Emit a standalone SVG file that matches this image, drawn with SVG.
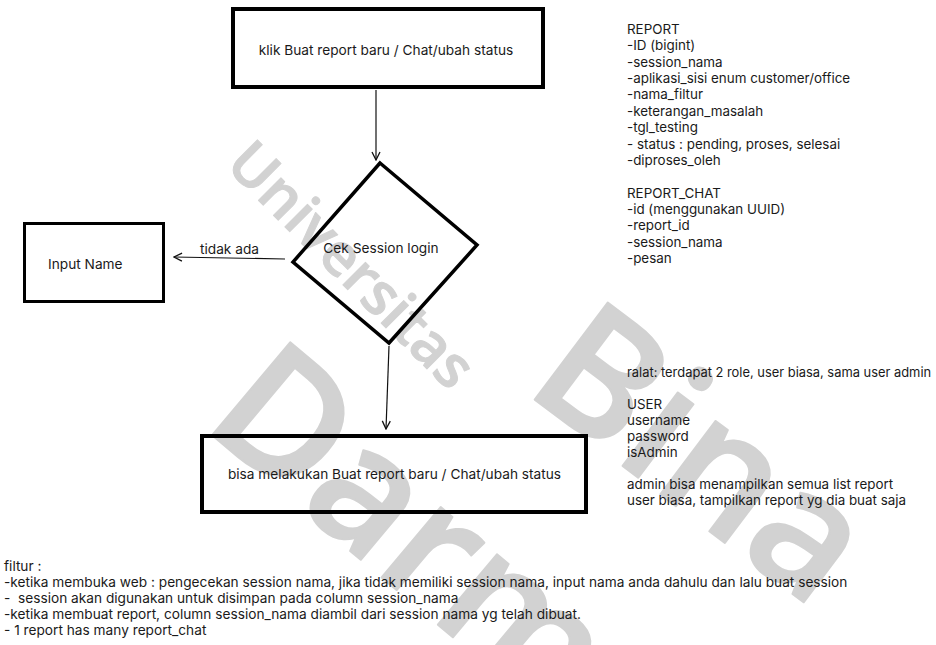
<svg xmlns="http://www.w3.org/2000/svg" width="936" height="645" viewBox="0 0 936 645">
<style>
  .t { font-family: Inter, "Noto Sans", "Liberation Sans", sans-serif; font-size: 13.4px; fill: #1a1a1a; }
  .tb { font-family: Inter, "Noto Sans", "Liberation Sans", sans-serif; font-size: 13.7px; fill: #1a1a1a; }
  .tn { font-family: Inter, "Noto Sans", "Liberation Sans", sans-serif; font-size: 13.7px; fill: #1a1a1a; }
  .box { fill: none; stroke: #000; stroke-width: 4; }
  .conn { fill: none; stroke: #111; stroke-width: 1.2; }
  .wm { font-family: "Open Sans", Lato, "Noto Sans", sans-serif; font-weight: 600; fill: #d2d2d2; stroke: #d2d2d2; stroke-linejoin: round; stroke-linecap: round; }
</style>
<defs>
  <marker id="arr" viewBox="0 0 10 10" refX="9" refY="5" markerWidth="10" markerHeight="10" markerUnits="userSpaceOnUse" orient="auto">
    <path d="M1,1 L9,5 L1,9" fill="none" stroke="#111" stroke-width="1.3"/>
  </marker>
</defs>
<rect width="936" height="645" fill="#fff"/>
<g id="watermark">
  <text class="wm" x="0" y="0" font-size="59" stroke-width="1" transform="translate(224,166) rotate(45)">Universitas</text>
  <text class="wm" x="0" y="0" font-size="170" stroke-width="2" transform="translate(522,390) rotate(37)">Bina</text>
  <text class="wm" x="0" y="0" font-size="170" stroke-width="2" transform="translate(200,425) rotate(40)">Darma</text>
</g>
<g id="connectors">
  <line class="conn" x1="376" y1="90" x2="376" y2="160" marker-end="url(#arr)"/>
  <line class="conn" x1="285" y1="259" x2="174" y2="257" marker-end="url(#arr)"/>
  <line class="conn" x1="389" y1="346" x2="386" y2="429" marker-end="url(#arr)"/>
  <text class="tn" x="200" y="254">tidak ada</text>
</g>
<g id="start">
  <rect class="box" x="233" y="9" width="310" height="78"/>
  <text class="tn" x="386" y="55" text-anchor="middle">klik Buat report baru / Chat/ubah status</text>
</g>
<g id="cek-session">
  <polygon points="380,163 477,245 389,343 293,262" fill="none" stroke="#000" stroke-width="3.5" stroke-linejoin="miter"/>
  <text class="tn" x="381" y="253" text-anchor="middle">Cek Session login</text>
</g>
<g id="input-name">
  <rect x="24.5" y="223.5" width="139" height="78" fill="none" stroke="#000" stroke-width="3"/>
  <text class="tn" x="48" y="269">Input Name</text>
</g>
<g id="bisa">
  <rect class="box" x="202" y="436" width="384" height="76"/>
  <text class="tn" x="394.5" y="479" text-anchor="middle">bisa melakukan Buat report baru / Chat/ubah status</text>
</g>
<g id="notes-report">
  <text class="t" x="627" y="34">REPORT</text>
  <text class="t" x="627" y="50.4">-ID (bigint)</text>
  <text class="t" x="627" y="66.7">-session_nama</text>
  <text class="t" x="627" y="83.1">-aplikasi_sisi enum customer/office</text>
  <text class="t" x="627" y="99.4">-nama_filtur</text>
  <text class="t" x="627" y="115.8">-keterangan_masalah</text>
  <text class="t" x="627" y="132.2">-tgl_testing</text>
  <text class="t" x="627" y="148.5">- status : pending, proses, selesai</text>
  <text class="t" x="627" y="164.9">-diproses_oleh</text>
  <text class="t" x="627" y="197.6">REPORT_CHAT</text>
  <text class="t" x="627" y="214">-id (menggunakan UUID)</text>
  <text class="t" x="627" y="230.3">-report_id</text>
  <text class="t" x="627" y="246.7">-session_nama</text>
  <text class="t" x="627" y="263">-pesan</text>
</g>
<g id="notes-user">
  <text class="t" x="627" y="377" style="font-size:12.9px">ralat: terdapat 2 role, user biasa, sama user admin</text>
  <text class="t" x="627" y="409">USER</text>
  <text class="t" x="627" y="425">username</text>
  <text class="t" x="627" y="441">password</text>
  <text class="t" x="627" y="457">isAdmin</text>
  <text class="t" x="627" y="489">admin bisa menampilkan semua list report</text>
  <text class="t" x="627" y="505">user biasa, tampilkan report yg dia buat saja</text>
</g>
<g id="notes-filtur">
  <text class="tb" x="4" y="571">filtur :</text>
  <text class="tb" x="4" y="587">-ketika membuka web : pengecekan session nama, jika tidak memiliki session nama, input nama anda dahulu dan lalu buat session</text>
  <text class="tb" x="4" y="603" xml:space="preserve">-  session akan digunakan untuk disimpan pada column session_nama</text>
  <text class="tb" x="4" y="619">-ketika membuat report, column session_nama diambil dari session nama yg telah dibuat.</text>
  <text class="tb" x="4" y="635">- 1 report has many report_chat</text>
</g>
</svg>
